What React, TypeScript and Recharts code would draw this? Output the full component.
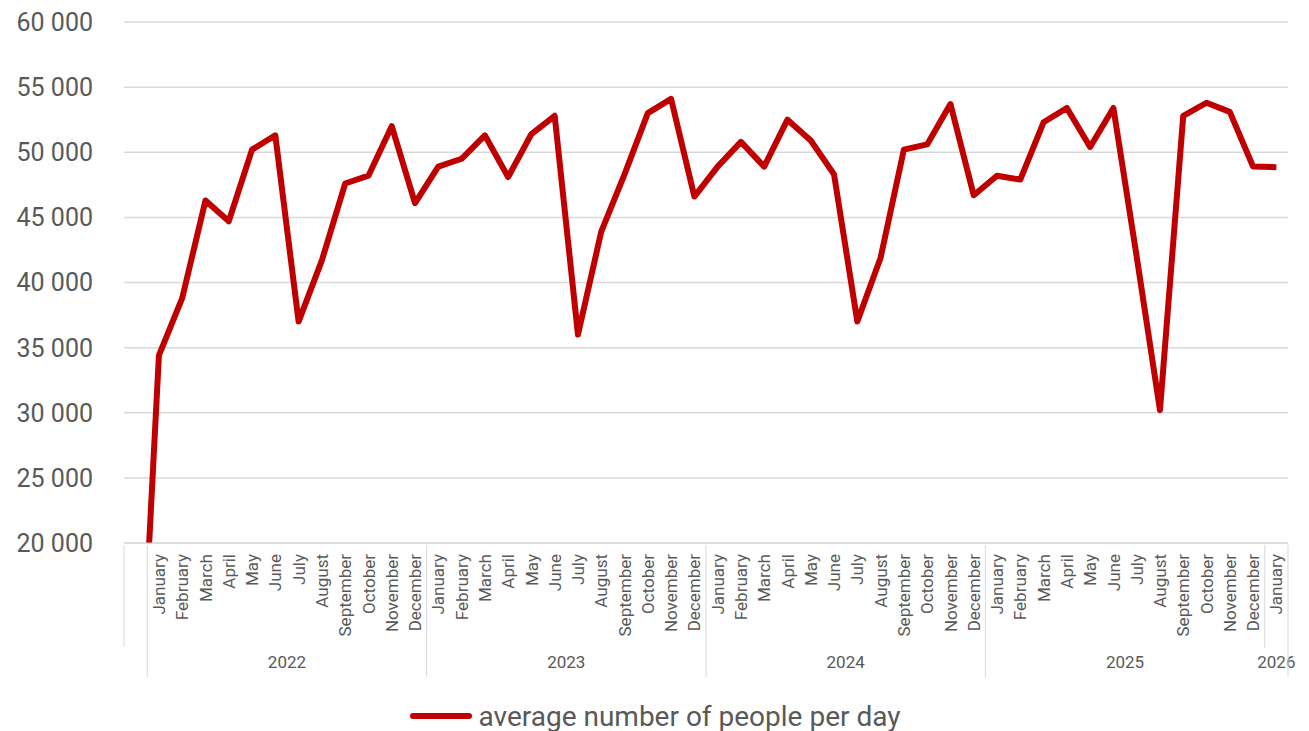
import React from "react";
import {
  LineChart,
  Line,
  XAxis,
  YAxis,
  CartesianGrid,
  Legend,
} from "recharts";

const monthNames = [
  "January",
  "February",
  "March",
  "April",
  "May",
  "June",
  "July",
  "August",
  "September",
  "October",
  "November",
  "December",
];
const years = ["2022", "2023", "2024", "2025", "2026"];
const monthsPerYear = [12, 12, 12, 12, 1];

// first value is the partial month before Jan 2022 (falls below the axis)
const visitors = [
  0,
  34400, 38800, 46300, 44700, 50200, 51300, 37000, 41700, 47600, 48200, 52000, 46100,
  48900, 49500, 51300, 48100, 51400, 52800, 36000, 43900, 48300, 53000, 54100, 46600,
  48900, 50800, 48900, 52500, 50900, 48300, 37000, 41900, 50200, 50600, 53700, 46700,
  48200, 47900, 52300, 53400, 50400, 53400, 42000, 30200, 52800, 53800, 53100, 48900,
  48850,
];

const yTicks = [20000, 25000, 30000, 35000, 40000, 45000, 50000, 55000, 60000];

const seriesName = "average number of people per day";

interface Row {
  key: string;
  month: string;
  value: number;
}

const rows: Row[] = [{ key: "start", month: "", value: visitors[0] }];
const groups: { year: string; start: number; count: number }[] = [];
years.forEach((yr, g) => {
  groups.push({ year: yr, start: rows.length, count: monthsPerYear[g] });
  for (let m = 0; m < monthsPerYear[g]; m++) {
    rows.push({
      key: `${yr}-${m + 1}`,
      month: monthNames[m],
      value: visitors[rows.length],
    });
  }
});

const FONT = "Roboto, 'Liberation Sans', Arial, sans-serif";
const TEXT = "#595959";
const GRID = "#d9d9d9";
const RED = "#C00000";

// plot is 1164px wide with 50 categories -> half a category
const HALF = 1164 / rows.length / 2;

const fmt = (v: number) => String(v).replace(/\B(?=(\d{3})+(?!\d))/g, " ");

function MonthTick(props: any) {
  const { x, y, payload } = props;
  const i: number = props.index ?? payload?.index ?? 0;
  const row = rows[i];
  const last = rows.length - 1;
  const group = groups.find((g) => g.start === i);
  const out: React.ReactNode[] = [];

  if (row?.month) {
    out.push(
      <text
        key="m"
        x={x}
        y={y + 11}
        transform={`rotate(-90, ${x}, ${y + 11})`}
        textAnchor="end"
        dy="0.36em"
        fill={TEXT}
        fontSize={17}
        fontFamily={FONT}
      >
        {row.month}
      </text>
    );
  }
  if (i === 0) {
    out.push(
      <line key="l0" x1={x - HALF} x2={x - HALF} y1={y + 2} y2={y + 104} stroke={GRID} />
    );
  }
  if (group) {
    const short = group.count === 1;
    out.push(
      <line
        key="gl"
        x1={x - HALF}
        x2={x - HALF}
        y1={y + 2}
        y2={y + (short ? 105 : 134)}
        stroke={GRID}
      />
    );
    out.push(
      <text
        key="yr"
        x={x - HALF + group.count * HALF}
        y={y + 119}
        textAnchor="middle"
        dominantBaseline="central"
        fill={TEXT}
        fontSize={17}
        fontFamily={FONT}
      >
        {group.year}
      </text>
    );
  }
  if (i === last) {
    out.push(
      <line key="lr" x1={x + HALF} x2={x + HALF} y1={y + 2} y2={y + 134} stroke={GRID} />
    );
  }
  return <g>{out}</g>;
}

function LegendContent() {
  return (
    <div
      style={{
        display: "flex",
        justifyContent: "center",
        alignItems: "center",
        height: 30,
        fontFamily: FONT,
        fontSize: 28,
        color: TEXT,
      }}
    >
      <svg width={64} height={10} style={{ marginRight: 6 }}>
        <line x1={4} y1={5} x2={60} y2={5} stroke={RED} strokeWidth={6} strokeLinecap="round" />
      </svg>
      <span>{seriesName}</span>
    </div>
  );
}

export default function App() {
  return (
    <div style={{ position: "absolute", left: 0, top: 0, background: "#fff" }}>
      <LineChart
        width={1309}
        height={731}
        data={rows}
        margin={{ top: 22, right: 21, bottom: 0, left: 0 }}
      >
        <CartesianGrid vertical={false} stroke={GRID} strokeWidth={1.5} />
        <XAxis
          dataKey="key"
          interval={0}
          height={158}
          padding={{ left: HALF, right: HALF }}
          tickLine={false}
          tickSize={0}
          tickMargin={0}
          axisLine={{ stroke: GRID }}
          tick={<MonthTick />}
        />
        <YAxis
          width={124}
          domain={[20000, 60000]}
          ticks={yTicks}
          allowDataOverflow
          axisLine={false}
          tickLine={false}
          tickSize={0}
          tickMargin={31}
          tickFormatter={fmt}
          tick={{ fill: TEXT, fontSize: 25, fontFamily: FONT }}
        />
        <Legend
          verticalAlign="bottom"
          content={<LegendContent />}
          wrapperStyle={{ left: 0, width: 1309, bottom: 0 }}
        />
        <Line
          dataKey="value"
          name={seriesName}
          stroke={RED}
          strokeWidth={6}
          strokeLinejoin="round"
          dot={false}
          activeDot={false}
          isAnimationActive={false}
        />
      </LineChart>
    </div>
  );
}
